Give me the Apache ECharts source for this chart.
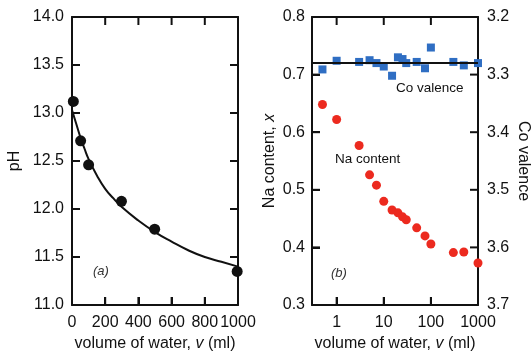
<!DOCTYPE html>
<html>
<head>
<meta charset="utf-8">
<script src="https://cdn.jsdelivr.net/npm/echarts@6/dist/echarts.min.js"></script>
<style>
  html, body { margin: 0; padding: 0; background: #fff; }
  #chart { width: 532px; height: 353px; }
</style>
</head>
<body>
<div id="chart"></div>
<script>
// panel (a): pH vs volume of water
const phVolume = [8, 52, 100, 298, 498, 995];
const phValues = [13.12, 12.71, 12.46, 12.08, 11.79, 11.35];
const fitVolume = [0, 25, 50, 75, 100, 150, 200, 250, 300, 400, 500, 600, 700, 800, 900, 1000];
const fitValues = [13.03, 12.89, 12.75, 12.63, 12.52, 12.35, 12.21, 12.11, 12.02, 11.88, 11.76, 11.66, 11.57, 11.5, 11.45, 11.4];

// panel (b): Na content and Co valence vs volume (log)
const bVolume = [0.5, 1, 3, 5, 7, 10, 15, 20, 25, 30, 50, 75, 100, 300, 500, 1000];
const naContent = [0.648, 0.622, 0.577, 0.526, 0.508, 0.48, 0.465, 0.46, 0.453, 0.448, 0.434, 0.42, 0.406, 0.391, 0.392, 0.373];
const coValence = [3.291, 3.276, 3.278, 3.275, 3.28, 3.286, 3.302, 3.27, 3.273, 3.28, 3.278, 3.289, 3.253, 3.278, 3.284, 3.28];
const coLevel = 3.278;

// inner tick positions (frame ticks on all four sides)
const xTicksA = [200, 400, 600, 800];
const yTicksA = [11.5, 12, 12.5, 13, 13.5];
const xTicksB = [1, 10, 100];
const yTicksB = [0.4, 0.5, 0.6, 0.7];

const font = 'Liberation Sans, Arial, sans-serif';
const black = '#111';
const lbl = () => ({ color: black, fontFamily: font, fontSize: 16 });
const italicName = () => ({ ...lbl(), rich: { i: { ...lbl(), fontStyle: 'italic' } } });
const frameLine = () => ({ show: true, onZero: false, lineStyle: { color: black, width: 2 } });
const tickIn = () => ({ show: true, inside: true, length: 8, lineStyle: { color: black, width: 2 } });
const isDecade = v => Math.abs(Math.log10(v) - Math.round(Math.log10(v))) < 1e-6;
const TICK = 8;

// ticks drawn through the axis scales, mirrored on both frame edges
const tickLine = (x1, y1, x2, y2) => ({
  type: 'line', shape: { x1, y1, x2, y2 }, style: { stroke: black, lineWidth: 2 },
});
const xTickSeries = (xi, yi, values, yRef) => ({
  type: 'custom', xAxisIndex: xi, yAxisIndex: yi, silent: true, z: 10, clip: false,
  data: values.map(v => [v, yRef]),
  renderItem: (params, api) => {
    const cs = params.coordSys;
    const x = api.coord([api.value(0), api.value(1)])[0];
    return { type: 'group', children: [
      tickLine(x, cs.y + cs.height, x, cs.y + cs.height - TICK),
      tickLine(x, cs.y, x, cs.y + TICK),
    ] };
  },
});
const yTickSeries = (xi, yi, values, xRef) => ({
  type: 'custom', xAxisIndex: xi, yAxisIndex: yi, silent: true, z: 10, clip: false,
  data: values.map(v => [xRef, v]),
  renderItem: (params, api) => {
    const cs = params.coordSys;
    const y = api.coord([api.value(0), api.value(1)])[1];
    return { type: 'group', children: [
      tickLine(cs.x, y, cs.x + TICK, y),
      tickLine(cs.x + cs.width, y, cs.x + cs.width - TICK, y),
    ] };
  },
});

const chart = echarts.init(document.getElementById('chart'));
chart.setOption({
  backgroundColor: '#fff',
  animation: false,
  grid: [
    { left: 72, top: 17, width: 166, height: 288, outerBoundsMode: 'none' },
    { left: 312, top: 17, width: 166, height: 288, outerBoundsMode: 'none' },
  ],
  xAxis: [
    {
      gridIndex: 0, type: 'value', min: 0, max: 1000, interval: 200,
      axisLine: frameLine(), axisTick: tickIn(), splitLine: { show: false },
      axisLabel: { ...lbl(), margin: 10, formatter: v => String(v) },
      name: 'volume of water, {i|v} (ml)', nameLocation: 'middle', nameGap: 31,
      nameTextStyle: italicName(),
    },
    {
      gridIndex: 0, type: 'value', position: 'top', min: 0, max: 1000, interval: 200,
      axisLine: frameLine(), axisTick: { show: false }, splitLine: { show: false }, axisLabel: { show: false },
    },
    {
      gridIndex: 1, type: 'log', min: 0.3, max: 1000, logBase: 10,
      axisLine: frameLine(), axisTick: tickIn(), splitLine: { show: false },
      axisLabel: { ...lbl(), margin: 10, formatter: v => (isDecade(v) ? String(Math.round(v)) : '') },
      name: 'volume of water, {i|v} (ml)', nameLocation: 'middle', nameGap: 31,
      nameTextStyle: italicName(),
    },
    {
      gridIndex: 1, type: 'log', position: 'top', min: 0.3, max: 1000, logBase: 10,
      axisLine: frameLine(), axisTick: { show: false }, splitLine: { show: false }, axisLabel: { show: false },
    },
  ],
  yAxis: [
    {
      gridIndex: 0, type: 'value', min: 11, max: 14, interval: 0.5,
      axisLine: frameLine(), axisTick: tickIn(), splitLine: { show: false },
      axisLabel: { ...lbl(), margin: 8, formatter: v => v.toFixed(1) },
      name: 'pH', nameLocation: 'middle', nameGap: 49, nameTextStyle: lbl(),
    },
    {
      gridIndex: 0, type: 'value', position: 'right', min: 11, max: 14, interval: 0.5,
      axisLine: frameLine(), axisTick: { show: false }, splitLine: { show: false }, axisLabel: { show: false },
    },
    {
      gridIndex: 1, type: 'value', min: 0.3, max: 0.8, interval: 0.1,
      axisLine: frameLine(), axisTick: tickIn(), splitLine: { show: false },
      axisLabel: { ...lbl(), margin: 7, formatter: v => v.toFixed(1) },
      name: 'Na content, {i|x}', nameLocation: 'middle', nameGap: 34,
      nameTextStyle: italicName(),
    },
    {
      gridIndex: 1, type: 'value', position: 'right', inverse: true, min: 3.2, max: 3.7, interval: 0.1,
      axisLine: frameLine(), axisTick: { show: false }, splitLine: { show: false },
      axisLabel: { ...lbl(), margin: 9, formatter: v => v.toFixed(1) },
      name: 'Co valence', nameLocation: 'middle', nameGap: 37, nameRotate: -90, nameTextStyle: lbl(),
    },
  ],
  series: [
    {
      type: 'line', xAxisIndex: 0, yAxisIndex: 0, smooth: true, showSymbol: false,
      data: fitVolume.map((v, i) => [v, fitValues[i]]),
      lineStyle: { color: black, width: 2 }, z: 2,
    },
    {
      type: 'scatter', xAxisIndex: 0, yAxisIndex: 0, symbol: 'circle', symbolSize: 11,
      data: phVolume.map((v, i) => [v, phValues[i]]),
      itemStyle: { color: black, opacity: 1 }, z: 3,
    },
    {
      type: 'scatter', xAxisIndex: 2, yAxisIndex: 2, symbol: 'circle', symbolSize: 9,
      data: bVolume.map((v, i) => [v, naContent[i]]),
      itemStyle: { color: '#ec2a1f', opacity: 1 },
    },
    {
      type: 'scatter', xAxisIndex: 2, yAxisIndex: 3, symbol: 'rect', symbolSize: 8,
      data: bVolume.map((v, i) => [v, coValence[i]]),
      itemStyle: { color: '#2f6ec3', opacity: 1 },
      markLine: {
        silent: true, symbol: 'none', label: { show: false },
        lineStyle: { color: black, width: 2, type: 'solid' },
        data: [{ yAxis: coLevel }],
      },
    },
    xTickSeries(0, 0, xTicksA, 11),
    yTickSeries(0, 0, yTicksA, 0),
    xTickSeries(2, 2, xTicksB, 0.3),
    yTickSeries(2, 2, yTicksB, 1),
  ],
  graphic: [
    { type: 'text', left: 93, top: 265, style: { text: '(a)', font: 'italic 13px ' + font, fill: '#333' } },
    { type: 'text', left: 331, top: 267, style: { text: '(b)', font: 'italic 13px ' + font, fill: '#333' } },
    { type: 'text', left: 335, top: 152, style: { text: 'Na content', font: '13.5px ' + font, fill: black } },
    { type: 'text', left: 396, top: 81, style: { text: 'Co valence', font: '13.5px ' + font, fill: black } },
  ],
});
</script>
</body>
</html>
